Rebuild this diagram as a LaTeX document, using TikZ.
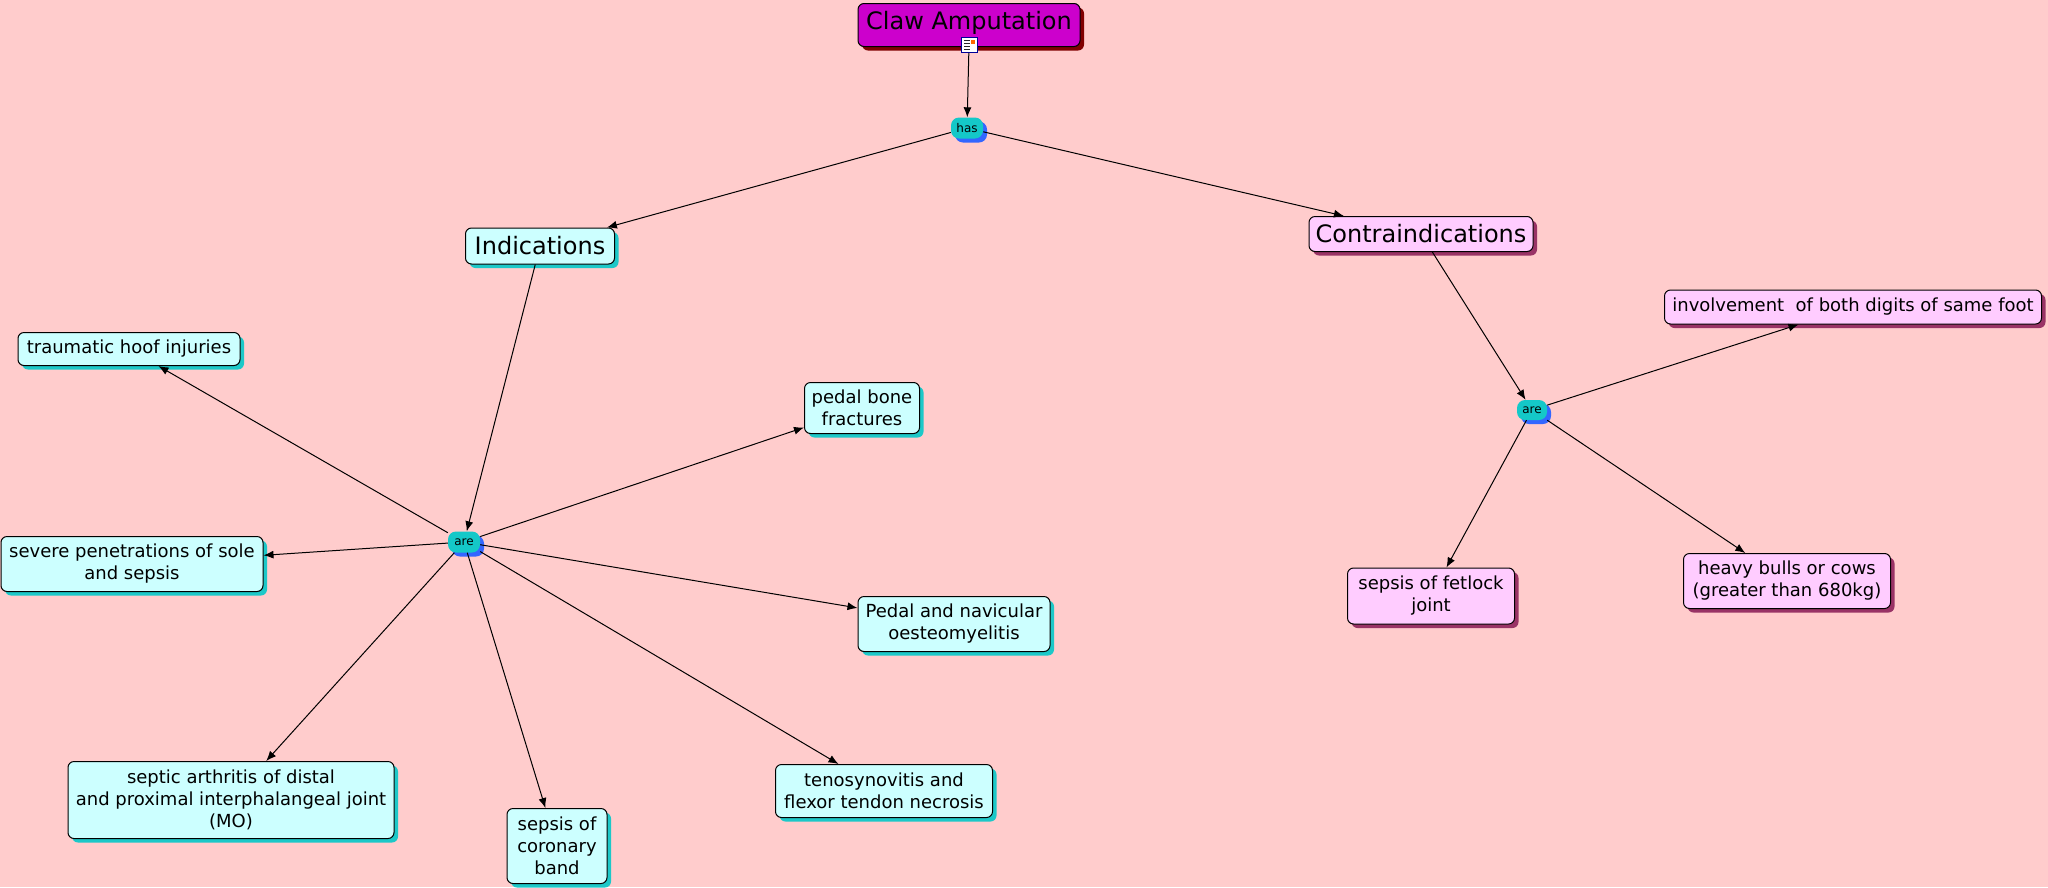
\documentclass[tikz,border=0pt]{standalone}
\usepackage{fontspec}
\setmainfont{DejaVu Sans}
\usetikzlibrary{arrows.meta,shadows}
\definecolor{bgpink}{HTML}{FFCCCC}
\definecolor{cyanbox}{HTML}{CCFFFF}
\definecolor{cyanshade}{HTML}{1CC8C8}
\definecolor{pinkbox}{HTML}{FFCCFF}
\definecolor{pinkshade}{HTML}{993366}
\definecolor{rootfill}{HTML}{CC00CC}
\definecolor{rootshade}{HTML}{800000}
\definecolor{linkfill}{HTML}{14C8C8}
\definecolor{linkshade}{HTML}{3366FF}
\begin{document}
\begin{tikzpicture}[x=1pt,y=-1pt,>={Latex[length=10pt,width=8pt]},
        concept/.style={draw=black,line width=1pt,rounded corners=6pt,align=center,inner sep=0pt,font=\fontsize{18}{22}\selectfont},
        cyanc/.style={concept,fill=cyanbox,drop shadow={shadow xshift=4pt,shadow yshift=-4pt,fill=cyanshade,opacity=1}},
        pinkc/.style={concept,fill=pinkbox,drop shadow={shadow xshift=4pt,shadow yshift=-4pt,fill=pinkshade,opacity=1}},
        linker/.style={fill=linkfill,rounded corners=8pt,inner sep=0pt,minimum width=32pt,minimum height=21pt,font=\fontsize{12}{14}\selectfont,drop shadow={shadow xshift=4pt,shadow yshift=-4pt,fill=linkshade,opacity=1}},
        link/.style={line width=1pt,->}]
        \useasboundingbox (0,0) rectangle (2048,887);
        \fill[bgpink] (0,0) rectangle (2048,887);
        % top
        \node[concept,fill=rootfill,minimum width=222pt,minimum height=43pt,font=\fontsize{24}{28}\selectfont,text depth=10pt,
            drop shadow={shadow xshift=4pt,shadow yshift=-4pt,fill=rootshade,opacity=1}] (claw) at (969,25) {Claw Amputation};
        \node[draw=blue!60!black,fill=white,line width=0.8pt,minimum width=16pt,minimum height=15pt,inner sep=0pt] (icon) at (969,45) {};
        \foreach \yy in {-4,-1,2,5} \draw[gray!30!black,line width=0.8pt] ([xshift=-5pt,yshift=\yy pt]icon.center) -- ++(6pt,0);
        \fill[orange!80!red] ([xshift=2pt,yshift=1pt]icon.center) rectangle ++(4pt,4pt);
        \node[linker] (has) at (967,128) {has};
        \node[cyanc,minimum width=149pt,minimum height=36pt,font=\fontsize{24}{28}\selectfont] (ind) at (540,246) {Indications};
        \node[pinkc,minimum width=224pt,minimum height=35pt,font=\fontsize{24}{28}\selectfont] (contra) at (1421,234) {Contraindications};
        % indications
        \node[linker] (are1) at (464,542) {are};
        \node[cyanc,minimum width=222pt,minimum height=33pt] (trauma) at (129,349) {traumatic hoof injuries};
        \node[cyanc,minimum width=262pt,minimum height=55pt] (severe) at (132,564) {severe penetrations of sole\\and sepsis};
        \node[cyanc,minimum width=115pt,minimum height=51pt] (pedal) at (862,408) {pedal bone\\fractures};
        \node[cyanc,minimum width=192pt,minimum height=55pt] (navic) at (954,624) {Pedal and navicular\\oesteomyelitis};
        \node[cyanc,minimum width=217pt,minimum height=53pt] (teno) at (884,791) {tenosynovitis and\\flexor tendon necrosis};
        \node[cyanc,minimum width=100pt,minimum height=75pt] (coronary) at (557,846) {sepsis of\\coronary\\band};
        \node[cyanc,minimum width=326pt,minimum height=77pt] (septic) at (231,800) {septic arthritis of distal\\and proximal interphalangeal joint\\(MO)};
        % contraindications
        \node[linker,minimum width=30pt,minimum height=20pt] (are2) at (1532,410) {are};
        \node[pinkc,minimum width=377pt,minimum height=34pt] (involve) at (1853,307) {involvement\ \ of both digits of same foot};
        \node[pinkc,minimum width=167pt,minimum height=56pt] (fetlock) at (1431,596) {sepsis of fetlock\\joint};
        \node[pinkc,minimum width=207pt,minimum height=55pt] (heavy) at (1787,581) {heavy bulls or cows\\(greater than 680kg)};
        \draw[link] (icon) -- (has);
        \draw[link] (has) -- (ind);
        \draw[link] (has) -- (contra);
        \draw[link] (ind) -- (are1);
        \foreach \dest in {trauma,severe,pedal,navic,teno,coronary,septic}
            \draw[link] (are1) -- (\dest);
        \draw[link] (contra) -- (are2);
        \foreach \dest in {involve,fetlock,heavy}
            \draw[link] (are2) -- (\dest);
    \end{tikzpicture}
\end{document}
